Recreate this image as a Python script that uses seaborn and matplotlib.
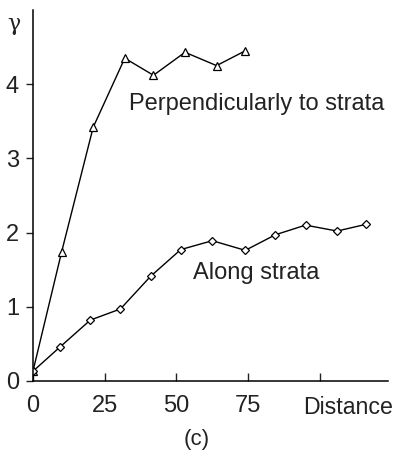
import matplotlib
matplotlib.use("Agg")
import matplotlib.pyplot as plt
import seaborn as sns
import pandas as pd

# data
perp_x = [0, 10, 21, 32, 42, 53, 64, 74]
perp_y = [0.13, 1.74, 3.42, 4.35, 4.12, 4.43, 4.25, 4.45]
along_x = [0, 9.5, 20, 30.5, 41, 51.5, 62.5, 74, 84.5, 95, 106, 116]
along_y = [0.13, 0.46, 0.82, 0.97, 1.41, 1.77, 1.89, 1.76, 1.97, 2.10, 2.02, 2.11]
xticks = [0, 25, 50, 75, 100]
xtick_labels = ["0", "25", "50", "75", ""]
yticks = [0, 1, 2, 3, 4]

perp = pd.DataFrame({"x": perp_x, "y": perp_y})
along = pd.DataFrame({"x": along_x, "y": along_y})

sns.set_style("ticks")
plt.rcParams["font.family"] = ["Liberation Sans", "DejaVu Sans"]

fig = plt.figure(figsize=(3.97, 4.54), dpi=100)
ax = fig.add_axes([0.083, 0.161, 0.894, 0.817])

sns.lineplot(data=perp, x="x", y="y", ax=ax, color="black", lw=1,
             marker="^", markersize=6, markerfacecolor="white",
             markeredgecolor="black", markeredgewidth=0.9)
sns.lineplot(data=along, x="x", y="y", ax=ax, color="black", lw=1,
             marker="D", markersize=4.5, markerfacecolor="white",
             markeredgecolor="black", markeredgewidth=0.9)

ax.set_xlim(0, 123.7)
ax.set_ylim(0, 5.0)
ax.set_xticks(xticks)
ax.set_xticklabels(xtick_labels)
ax.set_yticks(yticks)
ax.set_xlabel("")
ax.set_ylabel("")
sns.despine(ax=ax)
for s in ["left", "bottom"]:
    ax.spines[s].set_linewidth(1.1)
    ax.spines[s].set_color("black")
ax.tick_params(axis="x", direction="in", length=6, width=1, labelsize=17, pad=10, colors="#222222")
ax.tick_params(axis="y", direction="out", length=5, width=1, labelsize=17, pad=5, colors="#222222")

ax.text(109.8, -0.2, "Distance", ha="center", va="top", fontsize=16.7, color="#222222")
ax.text(-6.6, 4.96, "γ", ha="center", va="top", fontsize=16, color="#222222",
        family=["DejaVu Serif"])
ax.text(0.99, 0.747, "Perpendicularly to strata", transform=ax.transAxes,
        ha="right", va="center", fontsize=17, color="#222222")
ax.text(0.45, 0.29, "Along strata", transform=ax.transAxes,
        ha="left", va="center", fontsize=17, color="#222222")
fig.text(0.496, 0.033, "(c)", ha="center", va="center", fontsize=16, color="#222222")

fig.savefig("out.png", dpi=100)
